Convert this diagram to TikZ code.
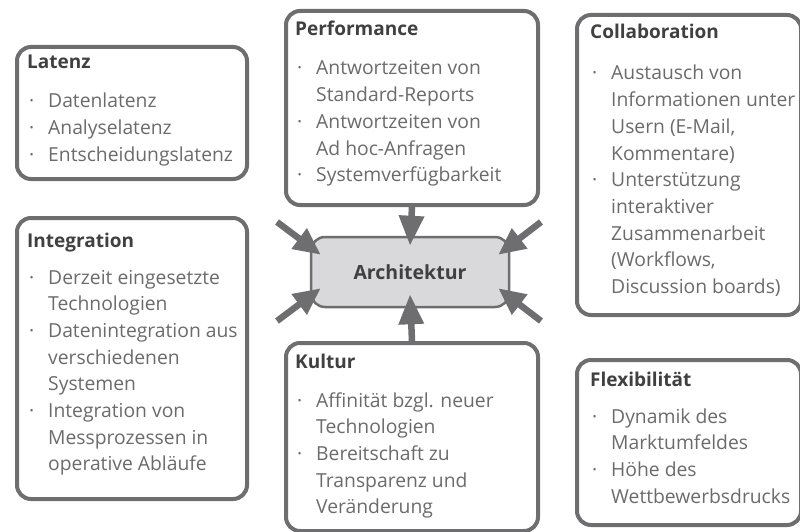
\documentclass[tikz,border=0pt]{standalone}
\usepackage{fontspec}
\setmainfont{Open Sans}
\usetikzlibrary{arrows.meta,calc}
\definecolor{bgray}{HTML}{6E6E70}
\definecolor{ttext}{HTML}{404040}
\definecolor{itext}{HTML}{6B6B6B}
\definecolor{afill}{HTML}{D9D9DB}
\newcommand{\bl}{\makebox[21pt][l]{\hspace*{2pt}·}}
\newcommand{\cl}{\hspace*{21pt}}
\begin{document}
\begin{tikzpicture}[x=1pt,y=-1pt,
 box/.style={draw=bgray, line width=4pt, rounded corners=14pt, fill=white, inner sep=0pt, anchor=north west},
 ttl/.style={anchor=base west, inner sep=0pt, font=\fontsize{19}{22}\selectfont\bfseries, text=ttext},
 itm/.style={anchor=base west, inner sep=0pt, font=\fontsize{19.3}{26.7}\selectfont, text=itext},
 archbox/.style={draw=bgray, line width=2.5pt, rounded corners=14pt, fill=afill, minimum width=198pt, minimum height=70pt, font=\fontsize{19.5}{24}\selectfont\bfseries, text=ttext},
 arr/.style={draw=bgray, line width=6.5pt, -{Triangle[width=24pt,length=30pt]}},
 darr/.style={draw=bgray, line width=6.5pt, -{Triangle[width=24pt,length=27pt]}}]

\useasboundingbox (0,0) rectangle (800,532);
\fill[white] (0,0) rectangle (800,532);

% boxes
\node[box, minimum width=230pt, minimum height=132pt] (lat) at (15,45) {};
\node[box, minimum width=252pt, minimum height=194pt] (perf) at (284,9) {};
\node[box, minimum width=224pt, minimum height=300pt] (col) at (575,13) {};
\node[box, minimum width=230pt, minimum height=281pt] (int) at (15,216) {};
\node[box, minimum width=252pt, minimum height=188pt] (kul) at (284,341) {};
\node[box, minimum width=224pt, minimum height=165pt] (flex) at (575,358) {};
\node[archbox] (arch) at (410,272) {Architektur};

% texts
\node[ttl] (latT) at (27,69) {Latenz};
\node[itm] (latI) at (27,108) {\begin{tabular}[t]{@{}l@{}}
\bl Datenlatenz\\ \bl Analyselatenz\\ \bl Entscheidungslatenz\end{tabular}};

\node[ttl] (perfT) at (295,36) {Performance};
\node[itm] (perfI) at (295,75) {\begin{tabular}[t]{@{}l@{}}
\bl Antwortzeiten von\\ \cl Standard-Reports\\ \bl Antwortzeiten von\\ \cl Ad hoc-Anfragen\\ \bl Systemverfügbarkeit\end{tabular}};

\node[ttl] (colT) at (590,39) {Collaboration};
\node[itm] (colI) at (590,80) {\begin{tabular}[t]{@{}l@{}}
\bl Austausch von\\ \cl Informationen unter\\ \cl Usern (E-Mail,\\ \cl Kommentare)\\ \bl Unterstützung\\ \cl interaktiver\\ \cl Zusammenarbeit\\ \cl (Workflows,\\ \cl Discussion boards)\end{tabular}};

\node[ttl] (intT) at (27,247) {Integration};
\node[itm] (intI) at (27,284) {\begin{tabular}[t]{@{}l@{}}
\bl Derzeit eingesetzte\\ \cl Technologien\\ \bl Datenintegration aus\\ \cl verschiedenen\\ \cl Systemen\\ \bl Integration von\\ \cl Messprozessen in\\ \cl operative Abläufe\end{tabular}};

\node[ttl] (kulT) at (295,368) {Kultur};
\node[itm] (kulI) at (295,407) {\begin{tabular}[t]{@{}l@{}}
\bl Affinität bzgl. neuer\\ \cl Technologien\\ \bl Bereitschaft zu\\ \cl Transparenz und\\ \cl Veränderung\end{tabular}};

\node[ttl] (flexT) at (590,386) {Flexibilität};
\node[itm] (flexI) at (590,423) {\begin{tabular}[t]{@{}l@{}}
\bl Dynamik des\\ \cl Marktumfeldes\\ \bl Höhe des\\ \cl Wettbewerbsdrucks\end{tabular}};

% arrows
\draw[arr] (perf.south) -- ($(arch.north)+(0,10)$);
\draw[arr] (kul.north) -- ($(arch.south)+(0,-14)$);
\coordinate (ul) at (277,222);
\coordinate (ll) at (277,321);
\coordinate (ur) at (541,222);
\coordinate (lr) at (541,321);
\draw[darr] (ul) -- ($(arch.north west)+(11,19)$);
\draw[darr] (ll) -- ($(arch.south west)+(11,-20)$);
\draw[darr] (ur) -- ($(arch.north east)+(-12,19)$);
\draw[darr] (lr) -- ($(arch.south east)+(-12,-20)$);
\end{tikzpicture}
\end{document}
